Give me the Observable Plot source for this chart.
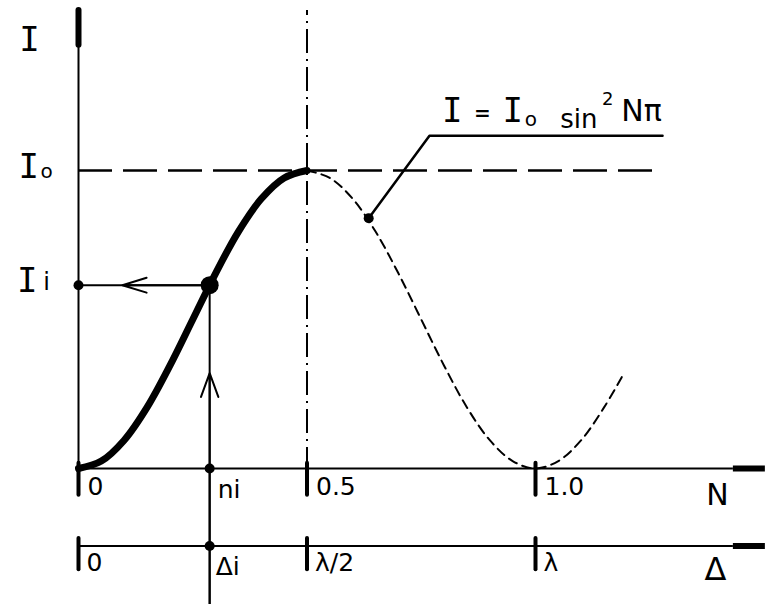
<!DOCTYPE html>
<html>
<head>
<meta charset="utf-8">
<script src="https://cdn.jsdelivr.net/npm/d3@7"></script>
<script src="https://cdn.jsdelivr.net/npm/@observablehq/plot@0.6"></script>
<style>
  body { margin: 0; background: #fff; }
  svg { display: block; }
</style>
</head>
<body>
<div id="chart"></div>
<script>
// Intensity I (relative to I0) against fringe order N: rising branch drawn solid,
// continuation drawn dashed.
const riseN = [0, 0.05, 0.1, 0.15, 0.2, 0.25, 0.3, 0.35, 0.4, 0.45, 0.5];
const riseI = [0, 0.025, 0.095, 0.205, 0.345, 0.5, 0.655, 0.795, 0.905, 0.975, 1];
const fallN = [0.5, 0.55, 0.6, 0.65, 0.7, 0.75, 0.8, 0.85, 0.9, 0.95, 1.0, 1.05, 1.1, 1.15, 1.19];
const fallI = [1, 0.975, 0.905, 0.795, 0.655, 0.5, 0.345, 0.205, 0.095, 0.025, 0, 0.025, 0.095, 0.205, 0.31];

// Scale ticks: order N on the upper axis, retardation Δ on the lower one
const nTicks = [0, 0.5, 1.0];
const nTickLabels = ["0", "0.5", "1.0"];
const deltaTickLabels = ["0", "λ/2", "λ"];

// Worked reading: measured intensity Ii gives order ni (and retardation Δi)
const readI = 0.615;
const readN = 0.287;

// Point where the formula callout touches the curve
const calloutN = 0.635;
const calloutI = 0.84;

const rise = riseN.map((n, k) => ({n, i: riseI[k]}));
const fall = fallN.map((n, k) => ({n, i: fallI[k]}));

// Vertical position of the Δ scale, below the N scale (in I units)
const deltaRow = -0.26;
const nEnd = 1.433, axisEnd = 1.503;   // thin axis end / thick bar end
const iTop = 1.42, iEnd = 1.537;

const ink = "#000";
const mono = "DejaVu Sans Mono";
const sans = "DejaVu Sans";

const note = (text, n, i, o = {}) =>
  Plot.text([text], {x: () => n, y: () => i, text: d => d, fill: ink,
    fontFamily: o.family ?? sans, fontSize: o.size ?? 24, textAnchor: o.anchor ?? "middle",
    fontWeight: o.weight ?? "normal"});

const chart = Plot.plot({
  width: 767,
  height: 604,
  margin: 0,
  x: {domain: [0, 1], range: [78, 535], axis: null},
  y: {domain: [0, 1], range: [468, 170], axis: null},
  marks: [
    // I axis
    Plot.ruleX([0], {y1: -0.085, y2: iTop, stroke: ink, strokeWidth: 2}),
    Plot.ruleX([0], {y1: iTop, y2: iEnd, stroke: ink, strokeWidth: 6, strokeLinecap: "round"}),
    // N axis
    Plot.ruleY([0], {x1: 0, x2: nEnd, stroke: ink, strokeWidth: 2}),
    Plot.ruleY([0], {x1: nEnd, x2: axisEnd, stroke: ink, strokeWidth: 6}),
    Plot.ruleX(nTicks, {y1: 0.018, y2: -0.09, stroke: ink, strokeWidth: 4, strokeLinecap: "round"}),
    // Δ axis
    Plot.ruleY([deltaRow], {x1: 0, x2: nEnd, stroke: ink, strokeWidth: 2}),
    Plot.ruleY([deltaRow], {x1: nEnd, x2: axisEnd, stroke: ink, strokeWidth: 6}),
    Plot.ruleX(nTicks, {y1: deltaRow + 0.025, y2: deltaRow - 0.08, stroke: ink, strokeWidth: 4, strokeLinecap: "round"}),

    // I0 level and half-order line
    Plot.ruleY([1], {x1: 0, x2: 1.278, stroke: ink, strokeWidth: 2.5, strokeDasharray: "34,11"}),
    Plot.ruleX([0.5], {y1: -0.01, y2: iEnd, stroke: ink, strokeWidth: 2, strokeDasharray: "24,6,2,6"}),

    // Curve
    Plot.line(fall, {x: "n", y: "i", curve: "catmull-rom", stroke: ink, strokeWidth: 2, strokeDasharray: "9,6"}),
    Plot.line(rise, {x: "n", y: "i", curve: "catmull-rom", stroke: ink, strokeWidth: 7, strokeLinecap: "round"}),

    // Reading construction
    Plot.ruleY([readI], {x1: 0, x2: readN, stroke: ink, strokeWidth: 2}),
    Plot.ruleX([readN], {y1: readI, y2: -0.456, stroke: ink, strokeWidth: 2}),
    Plot.arrow([0], {x1: readN, x2: 0.096, y1: readI, y2: readI, stroke: ink, strokeWidth: 2,
      headLength: 19, headAngle: 34}),
    Plot.arrow([0], {x1: readN, x2: readN, y1: -0.456, y2: 0.32, stroke: ink, strokeWidth: 2,
      headLength: 19, headAngle: 40}),
    Plot.dot([[0, readI], [readN, 0], [readN, deltaRow], [calloutN, calloutI]],
      {x: d => d[0], y: d => d[1], r: 5, fill: ink}),
    Plot.dot([[readN, readI]], {x: d => d[0], y: d => d[1], r: 9, fill: ink}),

    // Formula callout
    Plot.line([[calloutN, calloutI], [0.768, 1.117], [1.278, 1.117]],
      {x: d => d[0], y: d => d[1], stroke: ink, strokeWidth: 2.5}),

    // Axis titles
    note("I", -0.107, 1.436, {family: mono, size: 34}),
    note("I", -0.109, 1.01, {family: mono, size: 34}),
    note("o", -0.07, 0.995, {family: sans, size: 20}),
    note("I", -0.112, 0.63, {family: mono, size: 34}),
    note("i", -0.07, 0.625, {family: sans, size: 24}),
    note("N", 1.398, -0.09, {size: 30}),
    note("Δ", 1.394, deltaRow - 0.08, {size: 32}),

    // Tick labels
    Plot.text(nTicks, {x: d => d, y: () => 0, text: (d, k) => nTickLabels[k], dx: 9, dy: 18,
      textAnchor: "start", fontFamily: sans, fontSize: 25, fill: ink}),
    Plot.text(nTicks, {x: d => d, y: () => deltaRow, text: (d, k) => deltaTickLabels[k], dx: 8, dy: 17,
      textAnchor: "start", fontFamily: sans, fontSize: 25, fill: ink}),
    Plot.text(["ni"], {x: () => readN, y: () => 0, text: d => d, dx: 8, dy: 21,
      textAnchor: "start", fontFamily: sans, fontSize: 25, fill: ink}),
    Plot.text(["Δi"], {x: () => readN, y: () => deltaRow, text: d => d, dx: 6, dy: 21,
      textAnchor: "start", fontFamily: sans, fontSize: 25, fill: ink}),

    // Formula  I = I0 sin² Nπ
    note("I", 0.818, 1.2, {family: mono, size: 34}),
    note("=", 0.884, 1.19, {size: 20, weight: "bold"}),
    note("I", 0.95, 1.2, {family: mono, size: 34}),
    note("o", 0.99, 1.172, {size: 20}),
    note("sin", 1.095, 1.172, {size: 26}),
    note("2", 1.158, 1.238, {size: 18}),
    note("Nπ", 1.232, 1.198, {size: 30})
  ]
});

document.getElementById("chart").appendChild(chart);
</script>
</body>
</html>
